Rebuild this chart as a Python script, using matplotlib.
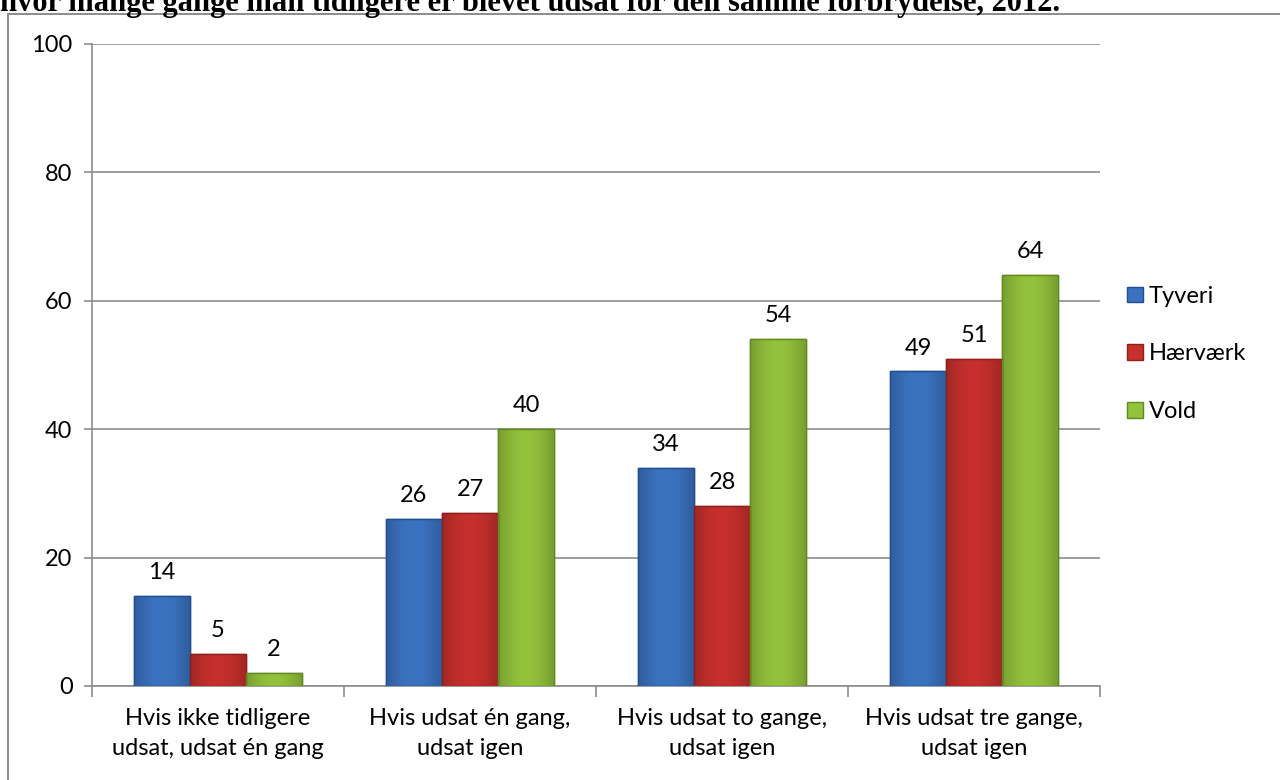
import matplotlib
matplotlib.use("Agg")
import matplotlib.pyplot as plt
import numpy as np
from matplotlib.patches import Rectangle
from matplotlib.colors import to_rgb

categories = ["Hvis ikke tidligere\nudsat, udsat én gang",
              "Hvis udsat én gang,\nudsat igen",
              "Hvis udsat to gange,\nudsat igen",
              "Hvis udsat tre gange,\nudsat igen"]
series_names = ["Tyveri", "Hærværk", "Vold"]
tyveri = [14, 26, 34, 49]
haervaerk = [5, 27, 28, 51]
vold = [2, 40, 54, 64]
yticks = [0, 20, 40, 60, 80, 100]
title = "hvor mange gange man tidligere er blevet udsat for den samme forbrydelse, 2012."

colors = ["#3b72c0", "#c6302d", "#93c23c"]
edges = ["#1f4f8f", "#8e1f1d", "#5f8a1f"]

plt.rcParams['font.family'] = ['Lato', 'DejaVu Sans']
FS = 17

fig = plt.figure(figsize=(12.8, 7.8), dpi=100)
fig.add_artist(Rectangle((8/1280, -0.05), 1.1, (780-14)/780 + 0.05, transform=fig.transFigure,
                         fill=False, edgecolor="#8c8c8c", linewidth=1.4))
fig.text(0.0, 1 - 11/780, title, family="Liberation Serif", fontweight="bold",
         fontsize=22, ha="left", va="baseline")

ax = fig.add_axes([92/1280, 1 - 686/780, (1100-92)/1280, (686-44)/780])
x = np.arange(len(categories))
w = 0.222

def shade(c, f):
    r = np.array(to_rgb(c))
    if f >= 0:
        return r + (1 - r) * f
    return r * (1 + f)

for i, (vals, c, ec) in enumerate(zip([tyveri, haervaerk, vold], colors, edges)):
    pos = x + (i - 1) * w
    bars = ax.bar(pos, vals, width=w, color=c, edgecolor=ec, linewidth=1.0,
                  label=series_names[i], zorder=3)
    t = np.linspace(0, 1, 64)
    prof = 0.18 * np.sin(np.pi * t) - 0.18
    grad = np.array([shade(c, f) for f in prof])[None, :, :]
    for b in bars:
        bx, by = b.get_x(), b.get_y()
        im = ax.imshow(grad, extent=(bx, bx + b.get_width(), by, by + b.get_height()),
                       aspect="auto", zorder=3.5, interpolation="bilinear")
        im.set_clip_path(b)
        ax.add_patch(Rectangle((bx, by), b.get_width(), b.get_height(), fill=False,
                               edgecolor=ec, linewidth=1.0, zorder=3.6))
    for p, v in zip(pos, vals):
        ax.text(p, v + 2.0, str(v), ha="center", va="bottom", fontsize=FS, zorder=4)

ax.set_ylim(0, 100)
ax.set_xlim(-0.5, len(categories) - 0.5)
ax.set_yticks(yticks)
ax.yaxis.grid(True, color="#8c8c8c", linewidth=1.2, zorder=0)
ax.set_axisbelow(True)
ax.set_xticks(np.arange(len(categories) + 1) - 0.5, minor=False)
ax.set_xticklabels([])
ax.set_xticks(x, minor=True)
ax.set_xticklabels(categories, minor=True, fontsize=FS, linespacing=1.5)
ax.tick_params(axis="x", which="minor", length=0, pad=16)
ax.tick_params(axis="x", which="major", length=8, color="#8c8c8c", width=1.2)
ax.tick_params(axis="y", length=6, color="#8c8c8c", width=1.2, labelsize=FS, pad=8)
for s in ["top", "right"]:
    ax.spines[s].set_visible(False)
for s in ["left", "bottom"]:
    ax.spines[s].set_color("#8c8c8c")
    ax.spines[s].set_linewidth(1.2)

leg = fig.legend(loc="center left", bbox_to_anchor=(1106/1280, 1 - 354/780), frameon=False,
                 fontsize=FS, handlelength=0.65, handleheight=0.65, handletextpad=0.25,
                 labelspacing=1.55)
fig.savefig("out.png", dpi=100)
